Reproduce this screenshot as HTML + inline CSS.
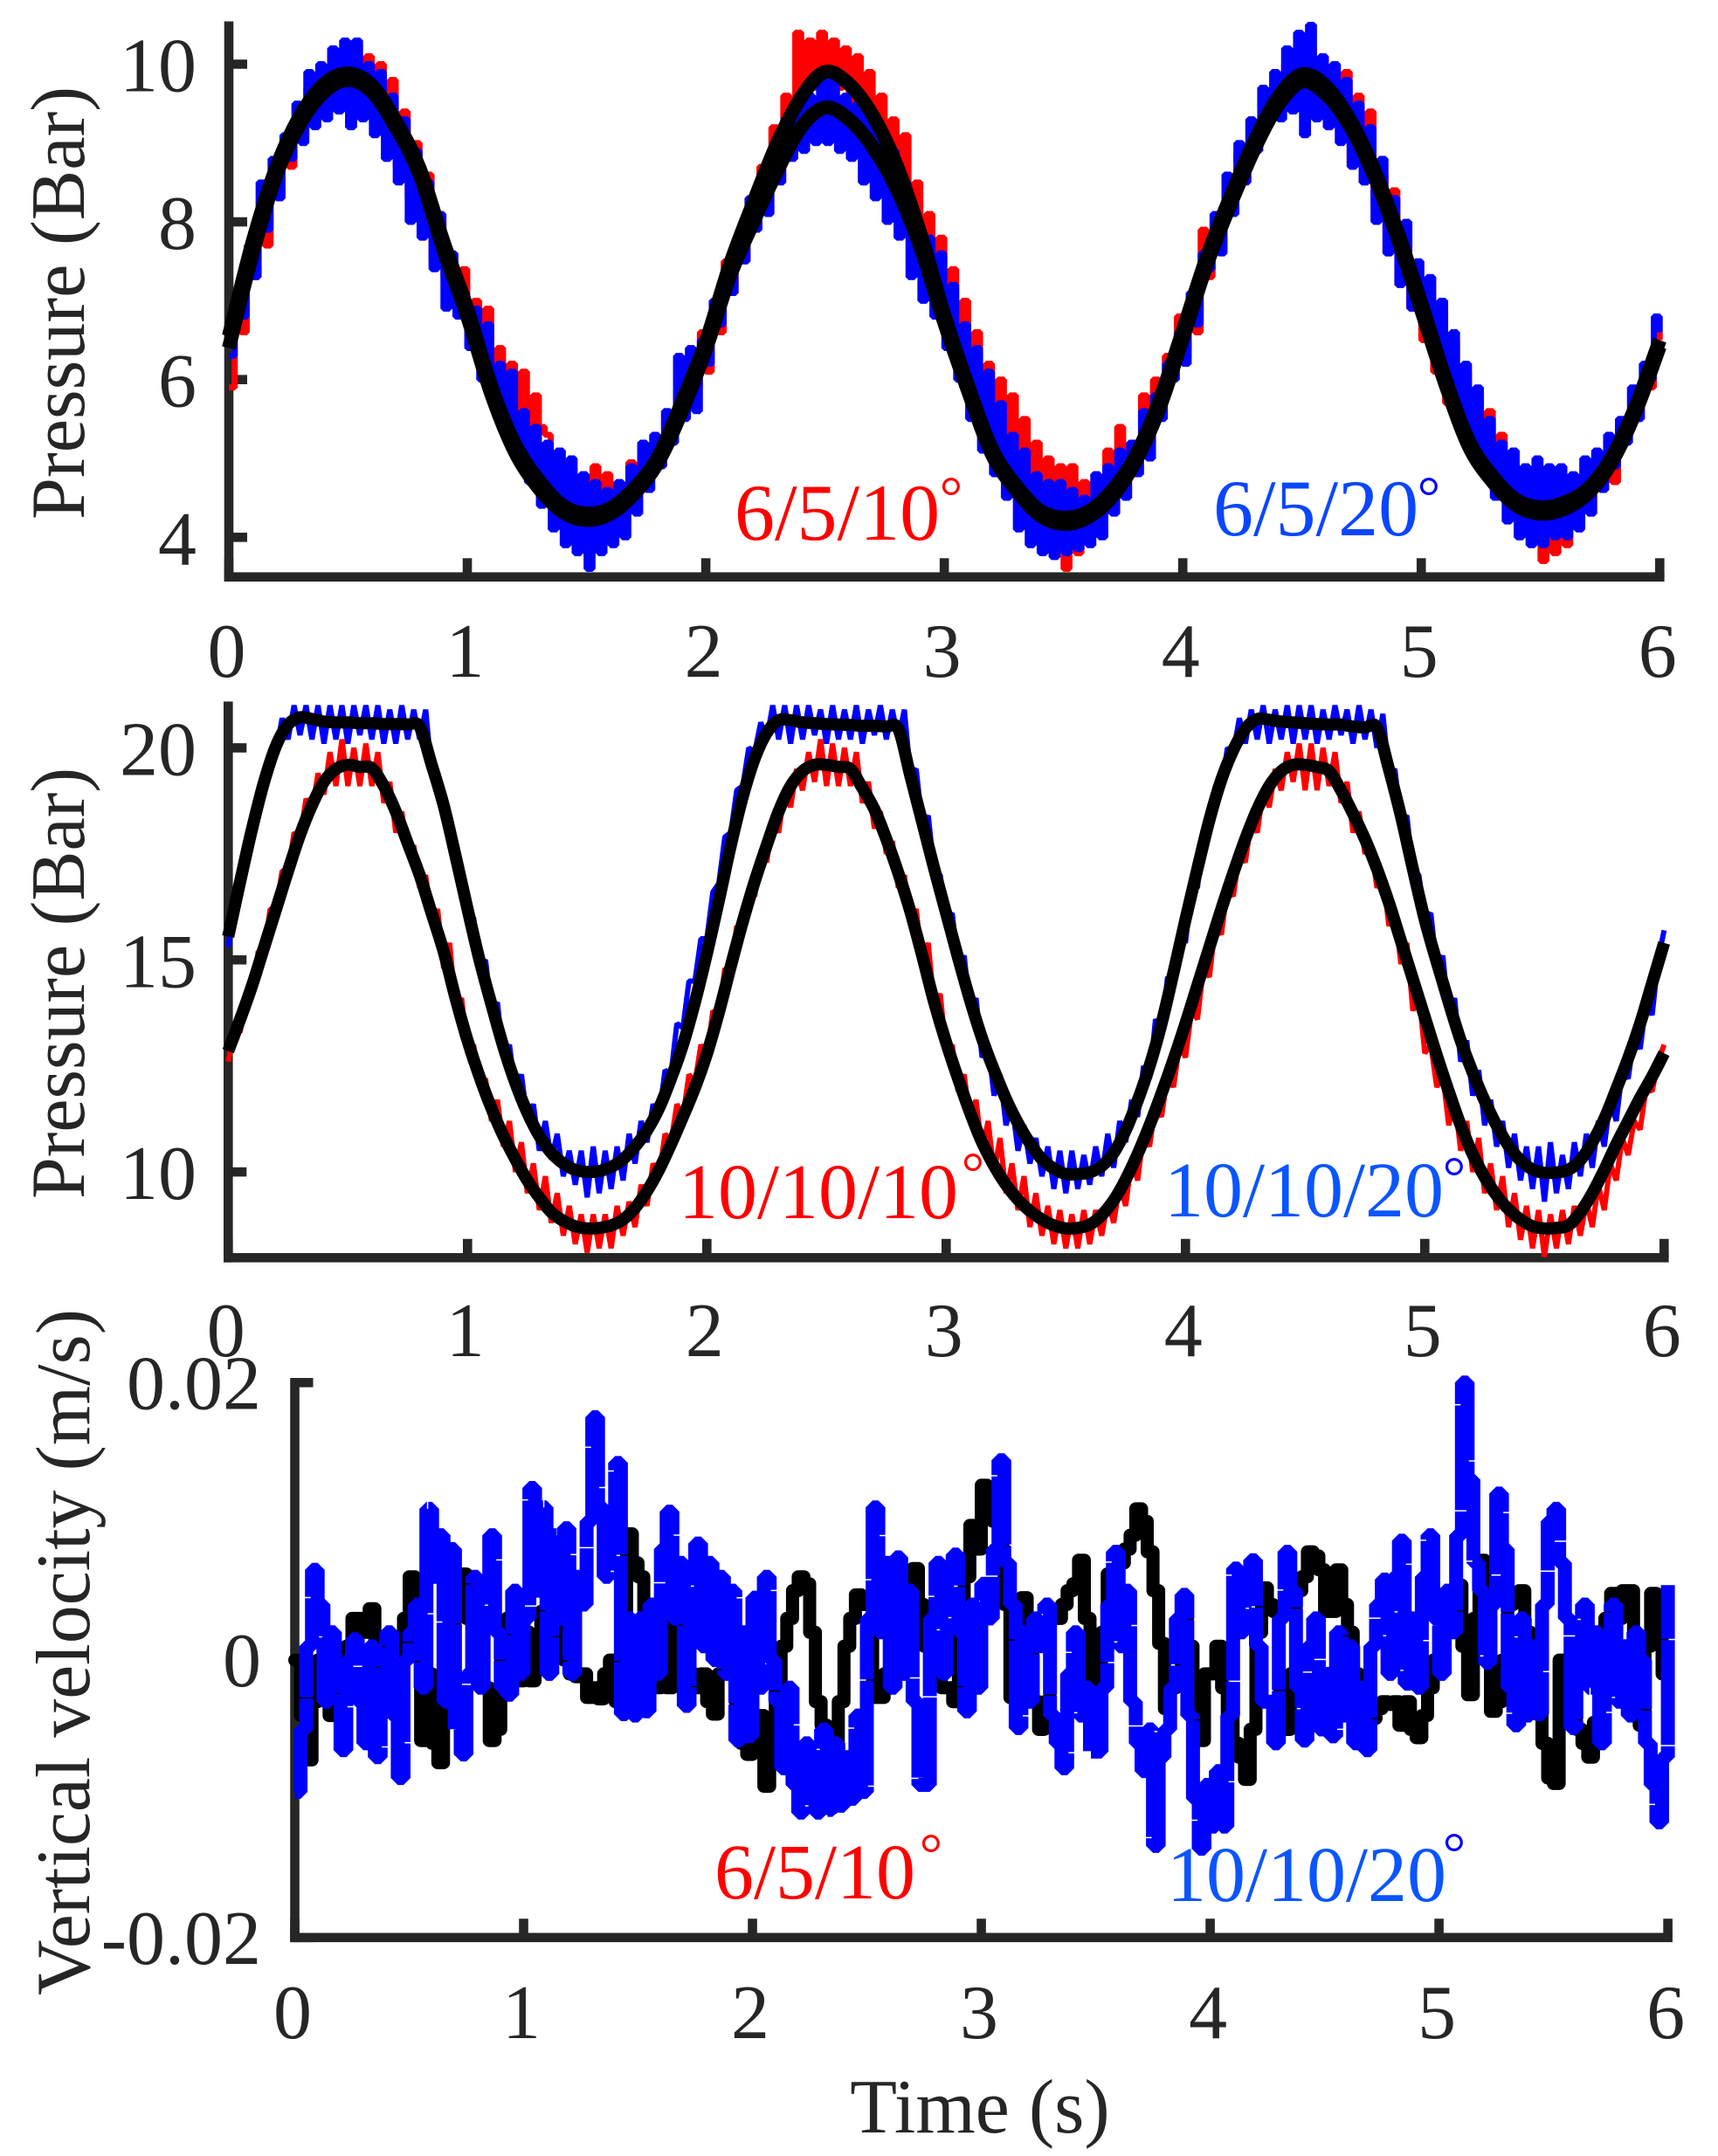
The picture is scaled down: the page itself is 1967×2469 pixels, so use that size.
<!DOCTYPE html>
<html lang="en">
<head>
<meta charset="utf-8">
<title>Pressure and vertical velocity over time</title>
<style>
html,body{margin:0;padding:0;background:#fff;}
svg{display:block;}
text{font-family:"Liberation Serif",serif;}
</style>
</head>
<body>
<svg id="chart" xmlns="http://www.w3.org/2000/svg" width="1967" height="2469" viewBox="0 0 1967 2469">
<rect x="0" y="0" width="1967" height="2469" fill="#ffffff"/>
<g id="axes-layer"></g>
<g id="trace-layer"></g>
<g>
<text x="841" y="618" font-size="92" fill="#ff0000">6/5/10</text>
<text x="1089" y="591" font-size="66" fill="#ff0000" text-anchor="middle">°</text>
<text x="1389" y="613" font-size="92" fill="#0a46ff">6/5/20</text>
<text x="1636" y="591" font-size="66" fill="#0000ff" text-anchor="middle">°</text>
<text x="777" y="1395" font-size="90" fill="#ff0000">10/10/10</text>
<text x="1114" y="1365" font-size="66" fill="#ff0000" text-anchor="middle">°</text>
<text x="1333" y="1393" font-size="90" fill="#0a55ff">10/10/20</text>
<text x="1665" y="1370" font-size="66" fill="#0000ff" text-anchor="middle">°</text>
<text x="818" y="2174" font-size="90" fill="#ff0000">6/5/10</text>
<text x="1066" y="2145" font-size="66" fill="#ff0000" text-anchor="middle">°</text>
<text x="1336" y="2177" font-size="90" fill="#0a55ff">10/10/20</text>
<text x="1665" y="2144" font-size="66" fill="#0000ff" text-anchor="middle">°</text>
</g>
<g fill="#262626">
<text transform="translate(96,347) rotate(-90)" font-size="88" text-anchor="middle" textLength="496" lengthAdjust="spacingAndGlyphs">Pressure (Bar)</text>
<text transform="translate(96,1126) rotate(-90)" font-size="88" text-anchor="middle" textLength="494" lengthAdjust="spacingAndGlyphs">Pressure (Bar)</text>
<text transform="translate(102,1892) rotate(-90)" font-size="88" text-anchor="middle" textLength="786" lengthAdjust="spacingAndGlyphs">Vertical velocity (m/s)</text>
<text x="1122" y="2442" font-size="88" text-anchor="middle">Time (s)</text>
</g>
</svg>
<script>
const xTickValues = [0, 1, 2, 3, 4, 5, 6];
const xTickLabels = ["0", "1", "2", "3", "4", "5", "6"];
const topYTickValues = [4, 6, 8, 10];
const topYTickLabels = ["4", "6", "8", "10"];
const middleYTickValues = [10, 15, 20];
const middleYTickLabels = ["10", "15", "20"];
const velocityYTickValues = [-20, 0, 20];
const velocityYTickLabels = ["-0.02", "0", "0.02"];

const noiseStepSeconds = 0.025;
const topMeanStepSeconds = 0.1;
const middleMeanStepSeconds = 0.05;
const velocityStepSeconds = 0.025;

const topRedPressure = [
5.9,6.8,6.6,7.5,7.3,8.1,7.7,8.6,8.3,9.0,8.7,9.3,9.1,9.7,9.3,9.9,9.5,10.1,9.6,10.2,
9.7,10.25,9.6,10.1,9.4,10.0,9.0,9.8,8.7,9.4,8.3,9.0,8.0,8.6,7.5,8.0,7.3,7.5,6.9,7.4,
6.6,7.0,6.2,6.9,6.0,6.4,5.7,6.2,5.3,6.1,5.0,5.8,5.4,5.3,4.4,5.1,4.1,4.9,4.0,4.8,
3.75,4.9,3.9,4.8,4.0,4.7,4.2,4.95,4.5,5.1,4.6,5.2,4.9,5.6,5.2,5.9,5.6,6.2,5.9,6.6,
6.1,6.9,6.6,7.5,7.1,7.8,7.5,8.3,8.0,8.7,8.5,9.2,9.0,9.6,9.4,10.4,9.6,10.3,9.7,10.4,
9.7,10.3,9.7,10.2,9.5,10.1,9.2,9.9,8.9,9.6,8.6,9.3,8.2,9.1,7.9,8.5,7.4,8.1,7.1,7.8,
6.7,7.4,6.2,7.0,5.8,6.6,5.6,6.2,5.1,6.0,4.7,5.8,4.5,5.5,4.4,5.2,3.9,5.0,3.9,4.9,
3.6,4.9,3.8,4.7,4.1,4.8,4.3,5.1,4.4,5.4,4.8,5.2,5.0,5.8,5.2,6.0,5.7,6.3,6.1,6.8,
6.3,7.0,6.6,7.9,7.3,8.0,7.7,8.6,8.3,8.9,8.7,9.3,9.1,9.7,9.3,9.9,9.5,10.0,9.5,10.2,
9.6,10.2,9.5,10.1,9.2,10.0,9.3,9.9,8.7,9.6,8.5,9.4,8.2,8.6,7.6,8.4,7.2,8.0,6.9,7.5,
6.5,7.3,6.1,6.9,5.7,6.5,5.4,6.1,5.1,5.8,4.9,5.6,4.7,5.3,4.5,5.0,4.3,4.9,4.0,4.8,
3.7,4.8,3.8,4.7,3.9,4.6,4.2,4.8,4.3,4.9,4.6,5.1,4.7,5.5,5.3,5.6,5.5,6.0,5.9,6.6,6.5
];
const topBluePressure = [
6.3,7.1,6.8,7.7,7.3,8.5,7.9,8.8,8.3,9.1,8.8,9.5,9.0,9.9,9.2,10.0,9.3,10.2,9.4,10.3,
9.2,10.3,9.3,10.0,9.1,9.9,8.8,9.6,8.5,9.3,8.0,8.9,7.8,8.5,7.4,8.1,6.9,7.6,6.8,7.1,
6.4,6.9,6.0,6.7,5.7,6.2,5.3,6.1,5.0,5.6,4.7,5.4,4.4,5.2,4.1,5.1,3.9,5.0,3.8,4.8,
3.6,4.7,3.8,4.6,3.9,4.7,4.0,4.9,4.3,5.2,4.6,5.3,4.9,5.6,5.2,6.3,5.5,6.4,5.6,6.5,
6.2,7.0,6.7,7.4,7.1,7.8,7.5,8.3,7.9,8.6,8.1,8.9,8.5,9.3,8.8,9.5,8.9,9.6,9.0,9.8,
9.0,9.9,8.9,9.6,8.8,9.5,8.5,9.4,8.3,9.1,8.0,8.9,7.8,8.5,7.3,8.0,7.0,7.8,6.8,7.6,
6.4,7.2,6.0,6.7,5.5,6.4,5.1,6.1,4.8,5.7,4.5,5.3,4.1,5.1,3.9,4.8,3.8,4.7,3.75,4.7,
3.8,4.6,3.85,4.5,3.9,4.8,4.0,4.9,4.3,5.1,4.5,5.2,4.8,5.6,5.0,5.8,5.5,6.2,6.0,6.6,
6.2,7.1,6.7,7.6,7.4,8.1,7.6,8.6,8.1,9.0,8.5,9.3,8.9,9.7,9.3,9.9,9.3,10.2,9.4,10.4,
9.1,10.5,9.3,10.1,9.2,10.0,9.0,9.8,8.7,9.5,8.5,9.2,8.0,8.8,7.6,8.3,7.2,8.0,6.9,7.5,
6.7,7.3,6.3,7.0,5.8,6.6,5.5,6.2,5.1,5.9,4.8,5.5,4.5,5.2,4.2,5.1,4.0,4.9,3.9,5.0,
3.9,4.9,4.0,4.9,4.0,4.8,4.1,5.0,4.3,5.1,4.6,5.3,4.9,5.5,5.2,5.9,5.5,6.2,6.0,6.8,6.6
];
const topMeanA = [
6.55,7.75,8.7,9.35,9.75,9.88,9.73,9.28,8.68,7.75,6.9,5.92,5.18,4.72,4.4,4.3,4.37,4.62,5.02,5.72,
6.48,7.45,8.25,9.0,9.58,9.9,9.75,9.35,8.72,7.85,6.82,5.92,5.12,4.66,4.34,4.25,4.32,4.58,5.02,5.72,
6.62,7.55,8.32,9.02,9.58,9.87,9.72,9.3,8.68,7.88,6.97,6.02,5.22,4.77,4.47,4.38,4.44,4.62,5.02,5.67,6.5
];
const topMeanB = [
6.4,7.6,8.6,9.25,9.65,9.8,9.65,9.2,8.6,7.65,6.8,5.82,5.08,4.62,4.32,4.22,4.3,4.55,4.95,5.6,
6.38,7.3,8.0,8.65,9.2,9.45,9.3,8.95,8.42,7.68,6.72,5.85,5.05,4.6,4.28,4.17,4.25,4.5,4.95,5.62,
6.52,7.45,8.22,8.92,9.48,9.78,9.62,9.22,8.6,7.8,6.88,5.95,5.15,4.7,4.4,4.3,4.36,4.56,4.96,5.6,6.42
];

const middleRedPressure = [
12.6,13.3,13.3,14.2,14.2,15.2,15.2,16.2,16.2,17.1,17.1,18.0,17.9,18.8,18.5,19.4,18.9,19.9,19.1,20.2,
19.1,20.0,19.1,20.1,19.1,19.9,18.7,19.2,18.0,18.5,17.5,17.7,16.7,17.0,15.9,16.2,14.8,15.4,13.9,14.1,
12.8,13.0,12.0,12.2,11.2,11.7,10.6,11.2,10.0,10.7,9.5,10.2,9.1,9.9,8.8,9.5,8.5,9.2,8.3,9.0,
8.1,9.0,8.2,9.0,8.2,9.2,8.5,9.3,8.7,9.7,9.2,10.2,9.9,10.9,10.7,11.6,11.3,12.3,12.1,13.0,
12.7,13.8,13.7,14.8,14.7,15.8,15.6,16.7,16.5,17.5,17.3,18.3,18.0,19.0,18.6,19.5,19.0,19.9,19.2,20.2,
19.1,20.1,19.1,20.0,19.1,19.9,18.7,19.2,18.1,18.5,17.5,17.8,16.7,17.0,15.9,16.2,14.9,15.4,13.9,14.2,
12.8,13.0,11.9,12.3,11.2,11.7,10.5,11.2,10.0,10.8,9.5,10.2,9.1,9.9,8.7,9.5,8.5,9.2,8.3,9.1,
8.2,9.0,8.2,9.1,8.3,9.1,8.5,9.3,8.8,9.7,9.2,10.3,9.8,10.9,10.6,11.6,11.3,12.3,12.0,13.0,
12.7,13.8,13.6,14.8,14.6,15.8,15.6,16.7,16.5,17.5,17.3,18.3,18.0,19.0,18.6,19.5,19.0,19.9,19.2,20.1,
19.0,20.1,19.0,20.0,19.1,19.9,18.7,19.2,18.0,18.5,17.5,17.7,16.7,17.0,15.8,16.2,14.9,15.4,13.8,14.2,
12.8,13.0,12.0,12.3,11.1,11.7,10.5,11.2,10.0,10.8,9.5,10.2,9.1,9.9,8.7,9.5,8.4,9.2,8.2,9.1,
8.0,9.0,8.2,9.1,8.3,9.2,8.5,9.3,8.7,9.7,9.1,10.2,9.8,10.8,10.4,11.2,11.0,12.0,11.9,12.6,13.0
];
const middleBluePressure = [
15.3,16.5,16.6,17.8,17.9,19.0,18.9,19.9,19.9,20.7,20.2,21.0,20.3,21.0,20.2,21.0,20.1,21.0,20.2,21.0,
20.1,21.0,20.3,21.0,20.2,21.0,20.1,20.9,20.1,21.0,20.2,20.9,20.2,20.9,19.4,19.4,18.3,18.3,17.2,16.9,
16.0,16.0,14.9,15.0,13.8,14.0,12.7,13.0,11.9,12.3,11.2,11.6,10.5,11.2,10.3,10.9,9.9,10.5,9.7,10.5,
9.4,10.6,9.5,10.5,9.6,10.6,9.8,10.9,10.2,11.2,10.7,11.6,11.3,12.4,12.3,13.5,13.4,14.5,14.5,15.5,
15.5,16.6,16.8,17.9,18.0,19.0,19.1,20.0,19.9,20.6,20.2,21.0,20.2,21.0,20.1,21.0,20.2,21.0,20.3,20.9,
20.1,21.0,20.2,20.9,20.2,21.0,20.1,20.9,20.3,21.0,20.2,20.9,20.2,20.9,19.4,19.5,18.2,18.4,17.1,17.0,
16.0,16.1,14.9,15.1,13.8,14.1,12.7,13.0,11.8,12.3,11.1,11.6,10.5,11.1,10.2,10.8,9.9,10.6,9.6,10.5,
9.5,10.5,9.6,10.4,9.7,10.6,9.9,10.9,10.1,11.2,10.7,11.7,11.3,12.5,12.2,13.6,13.3,14.6,14.4,15.6,
15.4,16.7,16.7,18.0,18.0,19.1,19.0,20.0,19.9,20.7,20.1,20.9,20.2,21.0,20.1,20.9,20.2,21.0,20.1,21.0,
20.2,21.0,20.1,20.9,20.2,21.0,20.3,20.9,20.1,21.0,20.2,20.9,20.0,20.8,19.4,19.5,18.3,18.4,17.1,17.0,
16.0,16.1,14.8,15.1,13.7,14.1,12.6,13.1,11.8,12.4,11.1,11.7,10.6,11.2,10.1,10.9,9.8,10.6,9.6,10.6,
9.3,10.7,9.5,10.4,9.6,10.7,9.9,10.9,10.1,11.2,10.6,11.7,11.2,12.4,12.2,13.2,12.9,14.0,13.7,15.0,15.7
];
const middleMeanUpper = [
15.55,16.85,18.1,19.2,20.05,20.55,20.72,20.68,20.62,20.6,
20.6,20.58,20.58,20.56,20.56,20.55,20.5,19.6,18.65,17.45,
16.2,15.0,13.95,12.95,12.1,11.4,10.85,10.45,10.2,10.05,
10.0,10.02,10.12,10.3,10.6,10.98,11.5,12.2,13.0,14.0,
15.15,16.4,17.7,18.85,19.75,20.35,20.65,20.65,20.6,20.58,
20.56,20.55,20.54,20.52,20.52,20.5,20.45,19.35,18.25,17.15,
16.1,15.05,14.05,13.15,12.4,11.72,11.15,10.68,10.3,10.08,
9.95,9.95,9.99,10.14,10.45,10.98,11.68,12.5,13.5,14.7,
15.95,17.15,18.3,19.25,19.95,20.45,20.68,20.66,20.62,20.6,
20.58,20.56,20.55,20.55,20.5,20.48,20.48,19.5,18.4,17.15,
15.95,14.95,14.0,13.1,12.35,11.68,11.1,10.62,10.27,10.06,
9.98,9.99,10.05,10.28,10.7,11.25,11.95,12.68,13.5,14.45,15.4
];
const middleMeanLower = [
12.85,13.6,14.4,15.3,16.2,17.1,17.95,18.65,19.2,19.5,
19.6,19.55,19.52,19.1,18.5,17.75,17.0,16.1,15.2,14.1,
13.1,12.25,11.5,10.85,10.3,9.8,9.4,9.05,8.85,8.72,
8.67,8.68,8.74,8.88,9.15,9.55,10.05,10.65,11.3,11.98,
12.78,13.76,14.85,15.9,16.85,17.7,18.5,19.1,19.45,19.6,
19.6,19.55,19.5,19.05,18.55,17.85,17.05,16.15,15.1,14.0,
13.05,12.2,11.4,10.7,10.15,9.7,9.35,9.08,8.88,8.74,
8.67,8.68,8.76,8.98,9.33,9.82,10.42,11.1,11.85,12.65,
13.5,14.4,15.3,16.2,17.05,17.85,18.55,19.1,19.45,19.6,
19.6,19.55,19.45,19.0,18.45,17.85,17.15,16.35,15.45,14.55,
13.65,12.75,11.9,11.1,10.42,9.88,9.45,9.12,8.88,8.72,
8.67,8.68,8.74,9.05,9.5,10.05,10.65,11.2,11.75,12.25,12.8
];

const velocityBlackMmPerS = [
0,-4,-7.2,-3,0,-2,-4,-3,-1,1,
3,3,2,3.7,1,-2.7,-1,1,0,3,
6,1,-5.8,-1,-6,-7.4,-2,1,4,6.2,
3,4,3,-2,-5.8,-5,2,3,1,-1.5,
2,-1.5,1,3.5,1,2.5,1,0,-1,-1.2,
-1,-2.7,-2,-2.8,-1,0,-3,2,9.1,7,
6,2,-2,-2,1,-2,3,4,0,-1,
-2,-1,-3,-3.9,-1,1.5,0,-3,-6,-6.8,
-5,-4,-9.1,-7,-1.5,1,3,5,6,5.5,
2,-3,-4.7,-10.7,-8,-3,1,3,4.7,4,
4,-2.7,-2.7,-1,-1,0,2,3,6.6,4,
1,-1,-1.5,-2,-2,-3,2,6,9.7,8,
12.6,11,10,8,4,-2.7,-1,4.5,2,-3,
-5,-3,3.5,3,4,5,5.5,7.2,3,-2,
-4,2,6.2,4,7,8,9,10.9,10,7.8,
5,1.2,-3.5,-2,-1,3,1,-2,-5.8,-1,
-1,1,-2,-4,-6,-7,-8.6,-5,2,5.2,
4,3.5,-2,-5,-1,5,6,7.8,7.5,6.5,
3.5,3.5,6.5,4,2,-1,-4,-5,-4.2,-3.5,
-3,-3.2,-3,-4.7,-3,-5,-5.6,-4,-2,0,
2,3,4,5.4,1,-2.5,3,7.2,2,-3.7,
-3,0,4,4.5,5,2,-2,-3.9,-6,-8.5,
-8.9,0,-1,-3,-5,-6,-7,-4.5,0,3,
4.8,3,5,5,-1,-4.7,1,4.8,3,-1,
-4
];
const velocityBlueMmPerS = [
-9.5,-5,1,6.5,4,-3,2,-1,-6.5,0,
1.5,-3,-6,1,-7,-2,2,-4,-8.5,0,
2,4,-2,10.9,6,9,-3,8,-5,-6.8,
-1,6,-2,5,9,2,-2,-2.5,5,-1,
3,12.4,5,11,-1,9,3,9.5,-1,6,
4,10,17.5,11,6,10,14.2,-3.9,3,-4,
3,-3.7,4,-1,8,10.7,3,7,-3.3,4,
8.4,1,7,0,6,-1,5,-5.8,2,-5.5,
4.5,-2,6,0,-3,-7.8,-2,-9,-11,-6,
-9,-11,-5,-10.8,-6,-10.5,-7,-10,-4,-9.5,
3,11,2,7,-2,7.4,-1,5,-3,-9,
-9,3,7,-1,6,7.6,2,-3.7,4,-2,
5.5,3,8,14.4,7,4,-4.9,2,-3,3,
1,4,-4,-6,-7.8,-1,2,-4,-2,-6.6,
-6.6,-2,4,7.8,1,5,-3,-6,-8,-5,
-13.4,-7,-5,-2,3,4.7,-4,-10,-13.6,-9,
-12,-8,-12,-4,6.6,2,5,7.2,1,-3,
-3,-6,3,7.8,5,-2,-5.8,1,3,-5,
-1,-5.5,2,-4,1,-6,-2,-6.5,1,4,
5.8,-1,6,8.6,-1.7,3,-2,6,9,3,
-1,5,2,9,20,13,7,5,-0.2,4,
12,8,-2,-4.7,3,-4,1,-3.9,4,10,
10.9,7,3,-4.9,1,4,-2,2,-6,-1,
4,-3,1,-4,2,0,-6,-9,-11.7,-7,
5.4
];

const SVG_NS = "http://www.w3.org/2000/svg";
const axesLayer = document.getElementById("axes-layer");
const traceLayer = document.getElementById("trace-layer");

function linearScale(domainA, domainB, rangeA, rangeB) {
  return function (v) { return rangeA + (v - domainA) * (rangeB - rangeA) / (domainB - domainA); };
}

const topX = linearScale(0, 6, 262, 1900.3);
const topY = linearScale(4, 10, 615.3, 73.5);
const middleX = linearScale(0, 6, 261.3, 1905.3);
const middleY = linearScale(10, 20, 1342.1, 856.4);
const velocityX = linearScale(0, 6, 337.5, 1909.6);
const velocityY = linearScale(-20, 20, 2218.8, 1583.3);

function makeNode(tag, parent) {
  const el = document.createElementNS(SVG_NS, tag);
  parent.appendChild(el);
  return el;
}

function styleAxisStroke(el) {
  el.setAttribute("stroke", "#262626");
  el.setAttribute("stroke-width", "10.6");
}

function setLine(el, x1, y1, x2, y2) {
  el.setAttribute("x1", x1);
  el.setAttribute("y1", y1);
  el.setAttribute("x2", x2);
  el.setAttribute("y2", y2);
  styleAxisStroke(el);
}

function setLabel(el, content, x, y, anchor) {
  el.setAttribute("x", x);
  el.setAttribute("y", y);
  el.setAttribute("font-size", "88");
  el.setAttribute("fill", "#262626");
  el.setAttribute("text-anchor", anchor);
  el.textContent = content;
}

function drawAxes(xs, ys, opts) {
  const xLeft = xs(xTickValues[0]);
  const xRight = xs(xTickValues[xTickValues.length - 1]);
  const base = opts.baseY;

  const ySpine = makeNode("line", axesLayer);
  setLine(ySpine, xLeft, opts.topY, xLeft, base + 5.3);
  
  

  const xSpine = makeNode("line", axesLayer);
  setLine(xSpine, xLeft - 5.3, base, xRight + 5.3, base);
  
  

  xTickValues.forEach(function (v, i) {
    const tick = makeNode("line", axesLayer);
    setLine(tick, xs(v), base, xs(v), base - 21.5);
    
    

    const label = makeNode("text", axesLayer);
    setLabel(label, xTickLabels[i], xs(v) - 2.5, opts.xLabelY, "middle");
    
    
  });

  opts.yValues.forEach(function (v, i) {
    const tick = makeNode("line", axesLayer);
    setLine(tick, xLeft, ys(v), xLeft + 21, ys(v));
    
    

    const label = makeNode("text", axesLayer);
    setLabel(label, opts.yLabels[i], opts.yLabelRight, ys(v) + opts.yLabelShift, "end");
    
    
  });
}

function pointsFrom(values, step, xs, ys) {
  return values.map(function (v, i) { return [xs(i * step), ys(v)]; });
}

function straightPath(pts) {
  return pts.map(function (p, i) { return (i ? "L" : "M") + p[0].toFixed(1) + " " + p[1].toFixed(1); }).join("");
}

function stepPath(pts) {
  let d = "M" + pts[0][0].toFixed(1) + " " + pts[0][1].toFixed(1);
  for (let i = 1; i < pts.length; i++) {
    d += "H" + pts[i][0].toFixed(1) + "V" + pts[i][1].toFixed(1);
  }
  return d;
}

function smoothPath(pts) {
  let d = "M" + pts[0][0].toFixed(1) + " " + pts[0][1].toFixed(1);
  for (let i = 0; i < pts.length - 1; i++) {
    const p0 = pts[Math.max(i - 1, 0)];
    const p1 = pts[i];
    const p2 = pts[i + 1];
    const p3 = pts[Math.min(i + 2, pts.length - 1)];
    const c1x = p1[0] + (p2[0] - p0[0]) / 6;
    const c1y = p1[1] + (p2[1] - p0[1]) / 6;
    const c2x = p2[0] - (p3[0] - p1[0]) / 6;
    const c2y = p2[1] - (p3[1] - p1[1]) / 6;
    d += "C" + c1x.toFixed(1) + " " + c1y.toFixed(1) + " " + c2x.toFixed(1) + " " + c2y.toFixed(1) + " " + p2[0].toFixed(1) + " " + p2[1].toFixed(1);
  }
  return d;
}

function drawStepNoise(values, step, xs, ys, color) {
  const el = makeNode("path", traceLayer);
  el.setAttribute("d", stepPath(pointsFrom(values, step, xs, ys)));
  el.setAttribute("fill", "none");
  el.setAttribute("stroke", color);
  el.setAttribute("stroke-width", "6.9");
  el.setAttribute("stroke-linejoin", "bevel");
  return el;
}

function drawZigzagNoise(values, step, xs, ys, color) {
  const el = makeNode("path", traceLayer);
  el.setAttribute("d", straightPath(pointsFrom(values, step, xs, ys)));
  el.setAttribute("fill", "none");
  el.setAttribute("stroke", color);
  el.setAttribute("stroke-width", "6");
  el.setAttribute("stroke-linejoin", "bevel");
  return el;
}

function drawMean(values, step, xs, ys, width) {
  const el = makeNode("path", traceLayer);
  el.setAttribute("d", smoothPath(pointsFrom(values, step, xs, ys)));
  el.setAttribute("fill", "none");
  el.setAttribute("stroke", "#000000");
  el.setAttribute("stroke-width", width);
  el.setAttribute("stroke-linejoin", "round");
  el.setAttribute("stroke-linecap", "butt");
  return el;
}

drawAxes(topX, topY, { baseY: 660.7, topY: 24.5, xLabelY: 775, yValues: topYTickValues, yLabels: topYTickLabels, yLabelRight: 225, yLabelShift: 31 });
drawAxes(middleX, middleY, { baseY: 1440.3, topY: 803.4, xLabelY: 1553, yValues: middleYTickValues, yLabels: middleYTickLabels, yLabelRight: 225, yLabelShift: 31 });
drawAxes(velocityX, velocityY, { baseY: 2218.8, topY: 1578, xLabelY: 2334, yValues: velocityYTickValues, yLabels: velocityYTickLabels, yLabelRight: 299, yLabelShift: 30 });

const topRedTrace = drawStepNoise(topRedPressure, noiseStepSeconds, topX, topY, "#ff0000");


const topBlueTrace = drawStepNoise(topBluePressure, noiseStepSeconds, topX, topY, "#0000ff");


const topMeanTraceA = drawMean(topMeanA, topMeanStepSeconds, topX, topY, 16);


const topMeanTraceB = drawMean(topMeanB, topMeanStepSeconds, topX, topY, 16);



const middleRedTrace = drawZigzagNoise(middleRedPressure, noiseStepSeconds, middleX, middleY, "#ff0000");


const middleBlueTrace = drawZigzagNoise(middleBluePressure, noiseStepSeconds, middleX, middleY, "#0000ff");


const middleUpperTrace = drawMean(middleMeanUpper, middleMeanStepSeconds, middleX, middleY, 14);


const middleLowerTrace = drawMean(middleMeanLower, middleMeanStepSeconds, middleX, middleY, 14);



const velocityBlackTrace = makeNode("path", traceLayer);
velocityBlackTrace.setAttribute("d", stepPath(pointsFrom(velocityBlackMmPerS, velocityStepSeconds, velocityX, velocityY)));
velocityBlackTrace.setAttribute("fill", "none");
velocityBlackTrace.setAttribute("stroke", "#000000");
velocityBlackTrace.setAttribute("stroke-width", "15");
velocityBlackTrace.setAttribute("stroke-linejoin", "round");
velocityBlackTrace.setAttribute("stroke-linecap", "round");



const velocityBlueTrace = makeNode("path", traceLayer);
velocityBlueTrace.setAttribute("d", stepPath(pointsFrom(velocityBlueMmPerS, velocityStepSeconds, velocityX, velocityY)));
velocityBlueTrace.setAttribute("fill", "none");
velocityBlueTrace.setAttribute("stroke", "#0000ff");
velocityBlueTrace.setAttribute("stroke-width", "16");
velocityBlueTrace.setAttribute("stroke-linejoin", "bevel");
velocityBlueTrace.setAttribute("stroke-dasharray", "120 1.5");


</script>
</body>
</html>
